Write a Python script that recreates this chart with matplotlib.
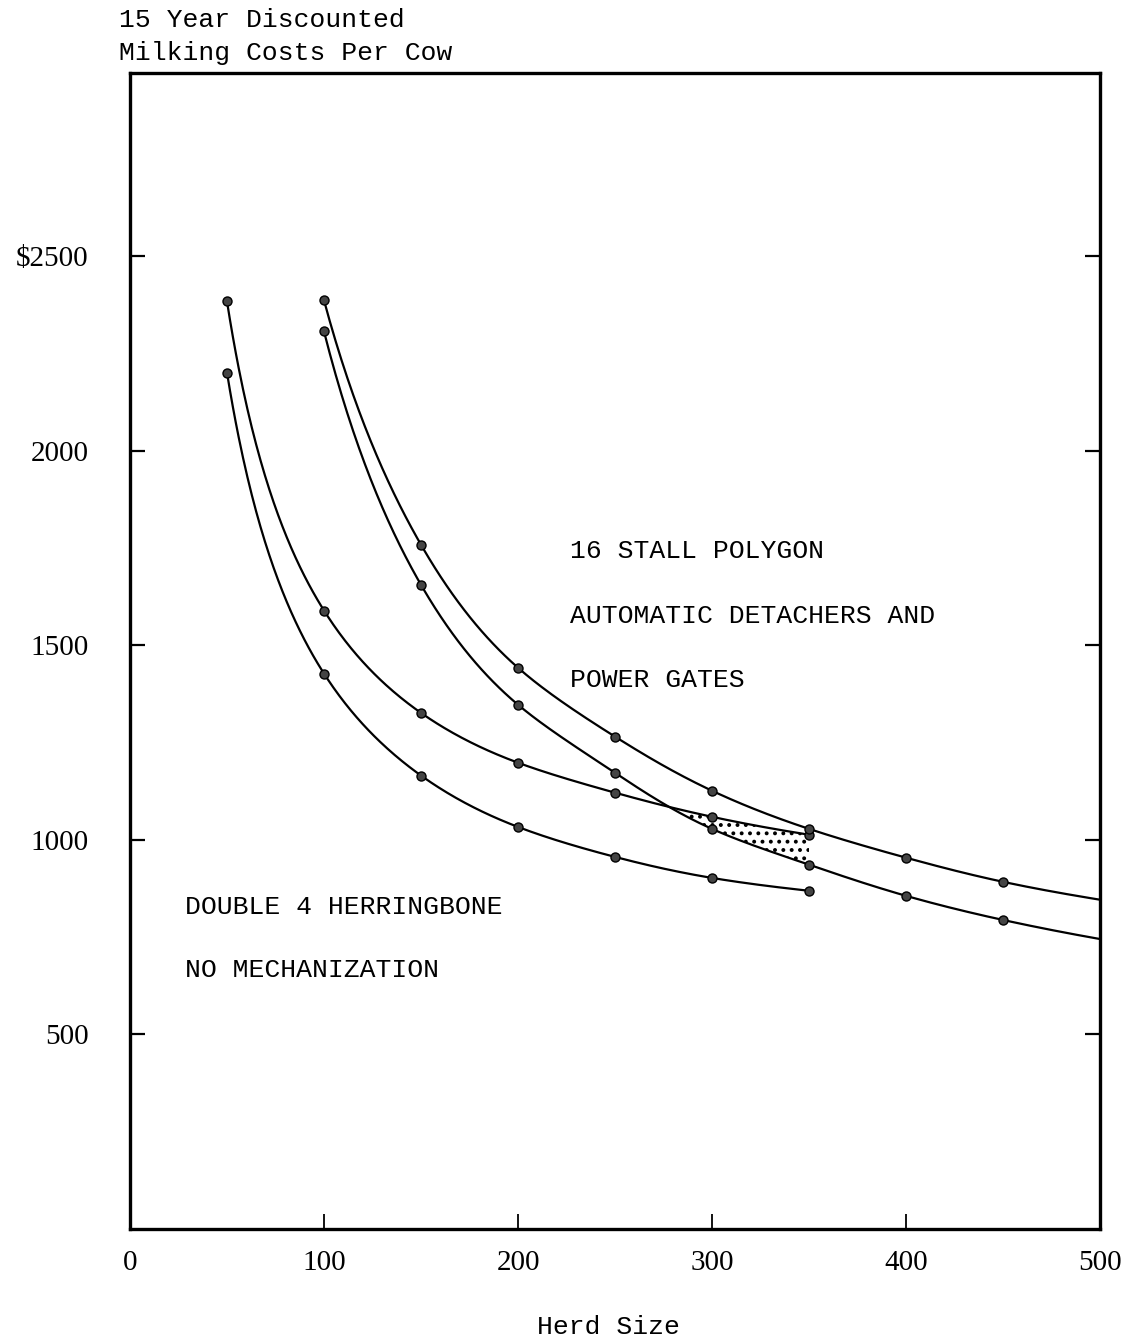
import numpy as np
import matplotlib
matplotlib.use("Agg")
import matplotlib.pyplot as plt

# ---- data ----
herring_lo_x = [50, 100, 150, 200, 250, 300, 350]
herring_lo_y = [2200, 1427, 1165, 1033, 956, 902, 869]

herring_hi_x = [50, 100, 150, 200, 250, 300, 350]
herring_hi_y = [2383, 1589, 1326, 1198, 1121, 1059, 1013]

polygon_hi_x = [100, 150, 200, 250, 300, 350, 400, 450]
polygon_hi_y = [2386, 1758, 1442, 1265, 1126, 1028, 954, 892]
polygon_hi_end = 846      # value where the curve meets x = 500

polygon_lo_x = [100, 150, 200, 250, 300, 350, 400, 450]
polygon_lo_y = [2306, 1655, 1347, 1172, 1028, 936, 856, 794]
polygon_lo_end = 745

x_ticks = [0, 100, 200, 300, 400, 500]
x_tick_labels = ["0", "100", "200", "300", "400", "500"]
y_ticks = [500, 1000, 1500, 2000, 2500]
y_tick_labels = ["500", "1000", "1500", "2000", "$2500"]

W, H = 1123, 1342


def natural_spline(u, y, uq):
    u = np.asarray(u, float); y = np.asarray(y, float)
    n = len(u)
    h = np.diff(u)
    A = np.zeros((n, n)); b = np.zeros(n)
    A[0, 0] = 1; A[-1, -1] = 1
    for i in range(1, n - 1):
        A[i, i - 1] = h[i - 1]
        A[i, i] = 2 * (h[i - 1] + h[i])
        A[i, i + 1] = h[i]
        b[i] = 3 * ((y[i + 1] - y[i]) / h[i] - (y[i] - y[i - 1]) / h[i - 1])
    c = np.linalg.solve(A, b)
    out = np.empty_like(uq)
    for k, q in enumerate(uq):
        i = np.searchsorted(u, q) - 1
        i = min(max(i, 0), n - 2)
        d = q - u[i]
        bi = (y[i + 1] - y[i]) / h[i] - h[i] * (2 * c[i] + c[i + 1]) / 3
        di = (c[i + 1] - c[i]) / (3 * h[i])
        out[k] = y[i] + bi * d + c[i] * d ** 2 + di * d ** 3
    return out


def smooth(xs, ys, xq):
    # spline in 1/x space (curves are hyperbola-like)
    u = 1.0 / np.asarray(xs, float)
    order = np.argsort(u)
    return natural_spline(u[order], np.asarray(ys, float)[order], 1.0 / np.asarray(xq, float))


plt.rcParams['font.family'] = ['Liberation Mono', 'DejaVu Sans Mono']
fig = plt.figure(figsize=(W / 100, H / 100), dpi=100)
ax = fig.add_axes([130 / W, 1 - 1229 / H, 970 / W, 1156 / H])

line_kw = dict(color='black', lw=1.6)
mark_kw = dict(ls='none', marker='o', ms=6.5, mfc='#444444', mec='black', mew=1.0, zorder=4)

curves = [
    (herring_lo_x, herring_lo_y, None),
    (herring_hi_x, herring_hi_y, None),
    (polygon_hi_x, polygon_hi_y, polygon_hi_end),
    (polygon_lo_x, polygon_lo_y, polygon_lo_end),
]
for xs, ys, end in curves:
    lx = list(xs); ly = list(ys)
    if end is not None:
        lx.append(500); ly.append(end)
    xq = np.linspace(lx[0], lx[-1], 400)
    ax.plot(xq, smooth(lx, ly, xq), **line_kw)
    ax.plot(xs, ys, **mark_kw)

# shaded region between herringbone (upper) and lower polygon curve
xf = np.linspace(250, 350, 400)
top = smooth(herring_hi_x, herring_hi_y, xf)
bot = smooth(polygon_lo_x + [500], polygon_lo_y + [polygon_lo_end], xf)
matplotlib.rcParams['hatch.linewidth'] = 1.6
ax.fill_between(xf, bot, top, where=top > bot, facecolor='none', edgecolor='black',
                hatch='..', linewidth=0, interpolate=True)

ax.set_xlim(0, 500)
ax.set_ylim(0, 2970)
for s in ax.spines.values():
    s.set_linewidth(2.4)

ax.set_xticks(x_ticks)
ax.set_xticklabels(x_tick_labels, family='Liberation Serif', fontsize=21)
ax.set_yticks(y_ticks)
ax.set_yticklabels(y_tick_labels, family='Liberation Serif', fontsize=21)
ax.tick_params(axis='x', direction='in', length=11, width=1.3, pad=15, top=False)
ax.tick_params(axis='y', direction='in', length=11, width=1.6, pad=30, right=True)
for t in ax.xaxis.get_major_ticks():
    if t.get_loc() in (0, 500):
        t.tick1line.set_visible(False)


def ptext(px, py, s, **kw):
    fig.text(px / W, 1 - py / H, s, fontsize=19, va='center', **kw)


ptext(119, 20, "15 Year Discounted")
ptext(119, 53, "Milking Costs Per Cow")
ptext(608, 1327, "Herd Size", ha='center')

ptext(570, 551, "16 STALL POLYGON")
ptext(570, 616, "AUTOMATIC DETACHERS AND")
ptext(570, 680, "POWER GATES")
ptext(185, 907, "DOUBLE 4 HERRINGBONE")
ptext(185, 970, "NO MECHANIZATION")

fig.savefig("out.png", dpi=100)
